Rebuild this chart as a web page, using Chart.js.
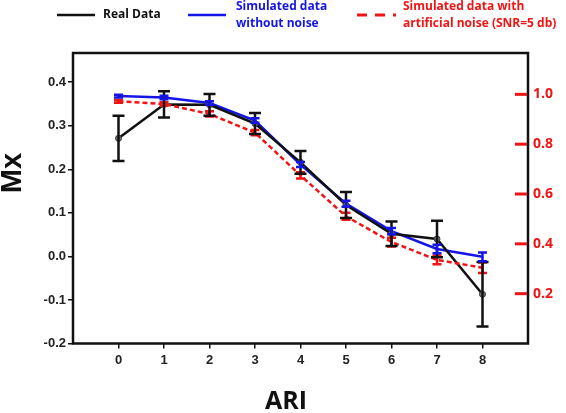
<!DOCTYPE html>
<html>
<head>
<meta charset="utf-8">
<script src="https://cdn.jsdelivr.net/npm/chart.js@4.4.1/dist/chart.umd.min.js"></script>
<style>
    html, body { margin: 0; padding: 0; background: #fff; }
    #wrap { position: relative; width: 566px; height: 413px; }
</style>
</head>
<body>
<div id="wrap"><canvas id="mxChart" width="566" height="413"></canvas></div>
<script>
// ARI levels on the x axis
const ariLevels = [0, 1, 2, 3, 4, 5, 6, 7, 8];

// Mx values (mean and half error bar)
const realMean  = [0.271, 0.349, 0.348, 0.305, 0.216, 0.118, 0.052, 0.040, -0.087];
const realErr   = [0.052, 0.030, 0.025, 0.024, 0.026, 0.030, 0.028, 0.042, 0.074];
const simMean   = [0.368, 0.365, 0.352, 0.312, 0.211, 0.121, 0.058, 0.017, -0.001];
const simErr    = [0.003, 0.004, 0.004, 0.005, 0.006, 0.007, 0.007, 0.010, 0.010];
const noisyMean = [0.356, 0.350, 0.327, 0.284, 0.186, 0.092, 0.033, -0.008, -0.026];
const noisyErr  = [0.003, 0.004, 0.006, 0.006, 0.007, 0.008, 0.010, 0.010, 0.012];

// tick labels
const leftTicks  = [-0.2, -0.1, 0.0, 0.1, 0.2, 0.3, 0.4];
const rightTicks = [0.2, 0.4, 0.6, 0.8, 1.0];

const RED = '#f01414';
const BLUE = '#1414e6';
const BLACK = '#111111';

function toPoints(means) {
    return ariLevels.map((x, i) => ({ x: x, y: means[i] }));
}

// error bars, frame, inner red ticks, legend and axis titles
const decorPlugin = {
    id: 'decor',
    afterDatasetsDraw(chart) {
        const { ctx, scales } = chart;
        chart.data.datasets.forEach((ds, i) => {
            if (!chart.isDatasetVisible(i)) return;
            ctx.save();
            ctx.strokeStyle = ds.borderColor;
            ctx.lineWidth = ds.errWidth;
            ctx.setLineDash([]);
            ds.data.forEach((p, j) => {
                const x = scales.x.getPixelForValue(p.x);
                const yTop = scales.y.getPixelForValue(p.y + ds.errors[j]);
                const yBot = scales.y.getPixelForValue(p.y - ds.errors[j]);
                const h = ds.capWidth / 2;
                ctx.beginPath();
                ctx.moveTo(x, yTop); ctx.lineTo(x, yBot);
                ctx.moveTo(x - h, yTop); ctx.lineTo(x + h, yTop);
                ctx.moveTo(x - h, yBot); ctx.lineTo(x + h, yBot);
                ctx.stroke();
            });
            ctx.restore();
        });
    },
    afterDraw(chart) {
        const { ctx, chartArea: a, scales } = chart;
        ctx.save();

        // frame
        ctx.strokeStyle = BLACK;
        ctx.lineWidth = 2.5;
        ctx.strokeRect(a.left, a.top, a.right - a.left, a.bottom - a.top);

        // red ticks pointing into the plot on the right axis
        ctx.strokeStyle = RED;
        ctx.lineWidth = 3;
        rightTicks.forEach(v => {
            const y = scales.y2.getPixelForValue(v);
            ctx.beginPath();
            ctx.moveTo(a.right - 13, y);
            ctx.lineTo(a.right - 1, y);
            ctx.stroke();
        });

        // legend
        ctx.lineWidth = 2.5;
        ctx.strokeStyle = BLACK;
        ctx.beginPath(); ctx.moveTo(57, 15); ctx.lineTo(95, 15); ctx.stroke();
        ctx.strokeStyle = BLUE;
        ctx.beginPath(); ctx.moveTo(188, 15); ctx.lineTo(226, 15); ctx.stroke();
        ctx.strokeStyle = RED;
        ctx.lineWidth = 3;
        ctx.setLineDash([10, 8]);
        ctx.beginPath(); ctx.moveTo(357, 15); ctx.lineTo(396, 15); ctx.stroke();
        ctx.setLineDash([]);

        ctx.font = 'bold 12px "Open Sans"';
        ctx.textBaseline = 'middle';
        ctx.textAlign = 'left';
        ctx.fillStyle = BLACK;
        ctx.fillText('Real Data', 103, 15);
        ctx.fillStyle = BLUE;
        ctx.fillText('Simulated data', 236, 7);
        ctx.fillText('without noise', 236, 24);
        ctx.fillStyle = RED;
        ctx.fillText('Simulated data with', 403, 7);
        ctx.fillText('artificial noise (SNR=5 db)', 403, 24);

        // axis titles
        ctx.fillStyle = BLACK;
        ctx.textAlign = 'center';
        ctx.font = 'bold 25px "Open Sans"';
        ctx.fillText('ARI', 286, 402);
        ctx.translate(13, 173);
        ctx.rotate(-Math.PI / 2);
        ctx.font = 'bold 29px "Liberation Sans"';
        ctx.fillText('Mx', 0, 0);

        ctx.restore();
    }
};

const ctx = document.getElementById('mxChart');

new Chart(ctx, {
    type: 'line',
    data: {
        datasets: [
            {
                label: 'Simulated data with artificial noise (SNR=5 db)',
                data: toPoints(noisyMean),
                errors: noisyErr,
                borderColor: RED,
                borderWidth: 2.5,
                borderDash: [5, 3],
                pointRadius: 0,
                errWidth: 2.5,
                capWidth: 9,
                tension: 0
            },
            {
                label: 'Real Data',
                data: toPoints(realMean),
                errors: realErr,
                borderColor: BLACK,
                borderWidth: 2.5,
                pointRadius: 3,
                pointBackgroundColor: '#777',
                pointBorderColor: '#333',
                pointBorderWidth: 1,
                errWidth: 2.5,
                capWidth: 12,
                tension: 0
            },
            {
                label: 'Simulated data without noise',
                data: toPoints(simMean),
                errors: simErr,
                borderColor: BLUE,
                borderWidth: 2.5,
                pointRadius: 0,
                errWidth: 2.5,
                capWidth: 9,
                tension: 0
            }
        ]
    },
    options: {
        responsive: false,
        animation: false,
        layout: { padding: { top: 53, left: 0, right: 0, bottom: 0 } },
        plugins: {
            legend: { display: false },
            tooltip: { enabled: false }
        },
        scales: {
            x: {
                type: 'linear',
                min: -1,
                max: 9,
                afterBuildTicks: s => { s.ticks = ariLevels.map(v => ({ value: v })); },
                afterFit: s => { s.height = 69.5; },
                border: { display: false },
                grid: { drawOnChartArea: false, tickLength: 5, color: BLACK, lineWidth: 1.5 },
                ticks: {
                    autoSkip: false,
                    maxRotation: 0,
                    padding: 4,
                    color: '#222',
                    font: { family: 'Liberation Sans', size: 13, weight: 'bold' },
                    callback: v => String(v)
                }
            },
            y: {
                position: 'left',
                min: -0.2,
                max: 0.467,
                afterBuildTicks: s => { s.ticks = leftTicks.map(v => ({ value: v })); },
                afterFit: s => { s.width = 73; },
                border: { display: false },
                grid: { drawOnChartArea: false, tickLength: 5, color: BLACK, lineWidth: 1.5 },
                ticks: {
                    autoSkip: false,
                    padding: 2,
                    color: '#222',
                    font: { family: 'Liberation Sans', size: 13, weight: 'bold' },
                    callback: v => v.toFixed(1)
                }
            },
            y2: {
                position: 'right',
                min: 0,
                max: 1.166,
                afterBuildTicks: s => { s.ticks = rightTicks.map(v => ({ value: v })); },
                afterFit: s => { s.width = 38; },
                border: { display: false },
                grid: { drawOnChartArea: false, drawTicks: false },
                ticks: {
                    autoSkip: false,
                    padding: 5,
                    color: RED,
                    font: { family: 'Open Sans', size: 14, weight: 'bold' },
                    callback: v => v.toFixed(1)
                }
            }
        }
    },
    plugins: [decorPlugin]
});
</script>
</body>
</html>
